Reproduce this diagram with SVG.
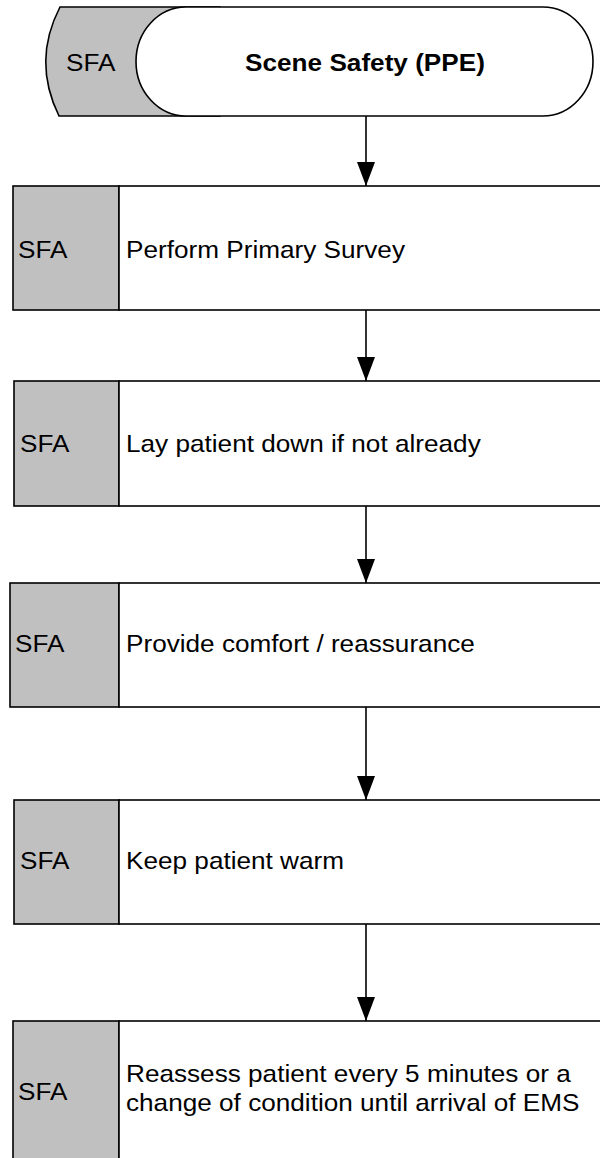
<svg xmlns="http://www.w3.org/2000/svg" width="600" height="1158" viewBox="0 0 600 1158">
  <style>
    .tab { fill: #c0c0c0; stroke: #000; stroke-width: 1.6; }
    .body { fill: #fff; stroke: #000; stroke-width: 1.6; }
    .lbl { font-family: "Liberation Sans", Arial, sans-serif; font-size: 24px; fill: #000; }
    .bold { font-weight: bold; }
    .conn { stroke: #000; stroke-width: 1.6; fill: none; marker-end: url(#arrow); }
  </style>
  <defs>
    <marker id="arrow" viewBox="0 0 24 18" refX="24" refY="9" markerUnits="userSpaceOnUse" markerWidth="24" markerHeight="18" orient="auto">
      <path d="M0,0 L24,9 L0,18 Z" fill="#000"/>
    </marker>
  </defs>

  <!-- start terminator with grey role tab -->
  <g id="start">
    <path class="tab" d="M60,7 L220,7 L220,116 L59,116 Q32,61 60,7 Z"/>
    <rect class="body" x="136" y="7" width="457" height="109" rx="50" ry="54.5"/>
    <text class="lbl" transform="translate(66,71) scale(1.09,1)">SFA</text>
    <text class="lbl bold" text-anchor="middle" transform="translate(365,71) scale(1.09,1)">Scene Safety (PPE)</text>
  </g>

  <!-- process steps: grey role column + white action area -->
  <g id="step1">
    <rect class="tab" x="13" y="186" width="106" height="124"/>
    <rect class="body" x="119" y="186" width="500" height="124"/>
    <text class="lbl" transform="translate(18,258) scale(1.09,1)">SFA</text>
    <text class="lbl" transform="translate(126,258) scale(1.09,1)">Perform Primary Survey</text>
  </g>

  <g id="step2">
    <rect class="tab" x="14" y="381" width="105" height="125"/>
    <rect class="body" x="119" y="381" width="500" height="125"/>
    <text class="lbl" transform="translate(20,452) scale(1.09,1)">SFA</text>
    <text class="lbl" transform="translate(126,452) scale(1.09,1)">Lay patient down if not already</text>
  </g>

  <g id="step3">
    <rect class="tab" x="10" y="583" width="109" height="124"/>
    <rect class="body" x="119" y="583" width="500" height="124"/>
    <text class="lbl" transform="translate(15,652) scale(1.09,1)">SFA</text>
    <text class="lbl" transform="translate(126,652) scale(1.09,1)">Provide comfort / reassurance</text>
  </g>

  <g id="step4">
    <rect class="tab" x="14" y="800" width="105" height="124"/>
    <rect class="body" x="119" y="800" width="500" height="124"/>
    <text class="lbl" transform="translate(20,869) scale(1.09,1)">SFA</text>
    <text class="lbl" transform="translate(126,869) scale(1.09,1)">Keep patient warm</text>
  </g>

  <g id="step5">
    <rect class="tab" x="13" y="1021" width="106" height="150"/>
    <rect class="body" x="119" y="1021" width="500" height="150"/>
    <text class="lbl" transform="translate(18,1100) scale(1.09,1)">SFA</text>
    <text class="lbl" transform="translate(126,1082) scale(1.09,1)">Reassess patient every 5 minutes or a</text>
    <text class="lbl" transform="translate(126,1111) scale(1.09,1)">change of condition until arrival of EMS</text>
  </g>

  <!-- connectors -->
  <g id="connectors">
    <line class="conn" x1="366" y1="116" x2="366" y2="186"/>
    <line class="conn" x1="366" y1="310" x2="366" y2="381"/>
    <line class="conn" x1="366" y1="506" x2="366" y2="583"/>
    <line class="conn" x1="366" y1="707" x2="366" y2="800"/>
    <line class="conn" x1="366" y1="924" x2="366" y2="1021"/>
  </g>
</svg>
